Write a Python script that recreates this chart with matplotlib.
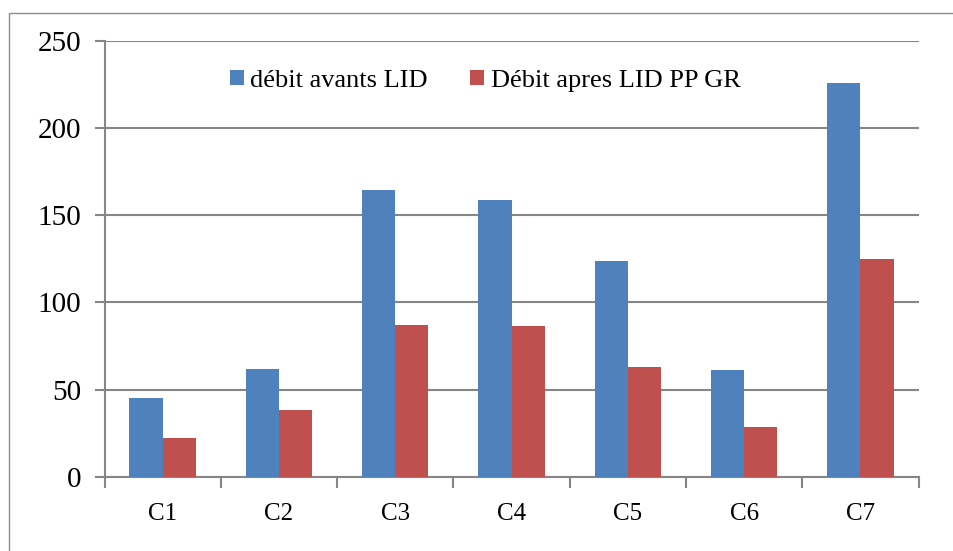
import matplotlib
matplotlib.use("Agg")
import matplotlib.pyplot as plt
from matplotlib.patches import Rectangle
import numpy as np

categories = ["C1", "C2", "C3", "C4", "C5", "C6", "C7"]
debit_avant = [45.1, 61.6, 164.4, 158.5, 123.5, 61.2, 226.0]
debit_apres = [22.0, 38.3, 86.8, 86.2, 62.9, 28.8, 124.7]
series_labels = ["débit avants LID", "Débit apres LID PP GR"]
yticks = [0, 50, 100, 150, 200, 250]

plt.rcParams["font.family"] = ["Liberation Serif", "DejaVu Serif"]

fig = plt.figure(figsize=(9.54, 5.51), dpi=100)
ax = fig.add_axes([0.1096, 0.1347, 0.8532, 0.7913])

# outer chart border
fig.patches.append(Rectangle((9 / 954, -0.05), 1.2, 1 - 13 / 551 + 0.05,
                             transform=fig.transFigure, fill=False,
                             edgecolor="#8c8c8c", linewidth=1.0))

x = np.arange(len(categories))
w = 1 / 3.5
ax.bar(x - w / 2, debit_avant, width=w, color="#4F81BD", label=series_labels[0], zorder=3)
ax.bar(x + w / 2, debit_apres, width=w, color="#C0504D", label=series_labels[1], zorder=3)

ax.set_xlim(-0.5, len(categories) - 0.5)
ax.set_ylim(0, 250)
ax.set_yticks(yticks)
ax.set_yticklabels([str(v) for v in yticks], fontsize=21)
ax.yaxis.grid(True, color="#868686", linewidth=1.5, zorder=0)

ax.set_xticks(x)
ax.set_xticklabels(categories, fontsize=18)
ax.tick_params(axis="x", length=0, pad=19)
ax.set_xticks(np.arange(-0.5, len(categories)), minor=True)
ax.tick_params(axis="x", which="minor", length=8, width=1.5, color="#868686")
ax.tick_params(axis="y", length=7, width=1.5, color="#868686", pad=10)

for side in ["top", "right"]:
    ax.spines[side].set_visible(False)
for side in ["left", "bottom"]:
    ax.spines[side].set_color("#868686")
    ax.spines[side].set_linewidth(1.5)

ax.legend(loc="center", bbox_to_anchor=(0.4674, 0.9078), ncol=2, frameon=False,
          fontsize=19, handlelength=0.53, handleheight=0.53, handletextpad=0.25,
          columnspacing=1.6, borderpad=0, borderaxespad=0)

fig.savefig("out.png", dpi=100)
